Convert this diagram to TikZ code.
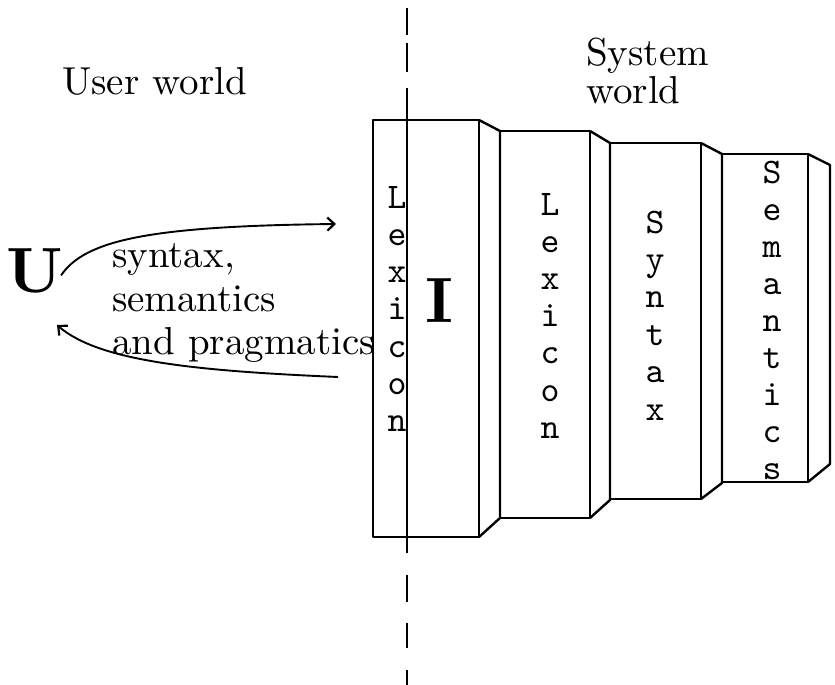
\documentclass[tikz,border=0pt]{standalone}
\usepackage{fontspec}
\setmainfont{lmroman10-regular.otf}[BoldFont=lmroman10-bold.otf]
\setmonofont{lmmono10-regular.otf}
\usetikzlibrary{arrows.meta}
\begin{document}
\begin{tikzpicture}[x=1pt,y=-1pt,
  boxline/.style={line width=2.4pt, line join=round},
  divider/.style={line width=2pt},
  flow/.style={line width=1.9pt, -{Straight Barb[length=7pt,width=13pt,line width=2.2pt]}},
  lbl/.style={inner sep=0pt, anchor=base west, font=\fontsize{39}{44}\selectfont},
  big/.style={inner sep=0pt, anchor=base west, font=\bfseries\fontsize{64}{70}\selectfont},
  lt/.style={inner sep=0pt, anchor=base, font=\ttfamily\fontsize{36}{37}\selectfont}]
\useasboundingbox (0,0) rectangle (835,685);

% boxes
\draw[boxline] (373,120) -- (479,120) -- (479,537) -- (373,537) -- cycle;
\draw[boxline] (479,120) -- (500,131) -- (500,518) -- (479,537);
\draw[boxline] (500,131) -- (590,131) -- (590,518) -- (500,518);
\draw[boxline] (590,131) -- (610,143) -- (610,500) -- (590,518);
\draw[boxline] (610,143) -- (701,143) -- (701,499) -- (610,499);
\draw[boxline] (701,143) -- (722,154) -- (722,483) -- (701,499);
\draw[boxline] (722,154) -- (808,154) -- (808,482) -- (722,482);
\draw[boxline] (808,154) -- (830,165) -- (830,464) -- (808,482);

% dashed divider
\foreach \a/\b in {8/35, 43/72, 88/553, 575/602, 623/648, 670/685}
  \draw[divider] (407,\a) -- (407,\b);

% vertical words
\foreach \ch [count=\i from 0] in {L,e,x,i,c,o,n}
  \node[lt] (lexa\i) at (397,208+37.3*\i) {\ch};
\foreach \ch [count=\i from 0] in {L,e,x,i,c,o,n}
  \node[lt] (lexb\i) at (550,215+37.2*\i) {\ch};
\foreach \ch [count=\i from 0] in {S,y,n,t,a,x}
  \node[lt] (syn\i) at (655,233+37.4*\i) {\ch};
\foreach \ch [count=\i from 0] in {S,e,m,a,n,t,i,c,s}
  \node[lt] (sem\i) at (772,183+37.1*\i) {\ch};

% labels
\node[lbl] (user) at (62,95) {User world};
\node[lbl] (sys1) at (586,66) {System};
\node[lbl] (sys2) at (586,103) {world};
\node[lbl] (t1) at (112,267) {syntax,};
\node[lbl] (t2) at (112,311) {semantics};
\node[lbl] (t3) at (112,354) {and pragmatics};
\node[big] (U) at (6,292) {U};
\node[big] (I) at (425,322) {I};

% arrows
\coordinate (outend) at (336,224);
\coordinate (instart) at (338,377);
\draw[flow] (U.east) ++(-2,5) .. controls (85,240) and (150,226) .. (outend);
\draw[flow] (instart) .. controls (200,371) and (100,362) .. (57,325);
\end{tikzpicture}
\end{document}
